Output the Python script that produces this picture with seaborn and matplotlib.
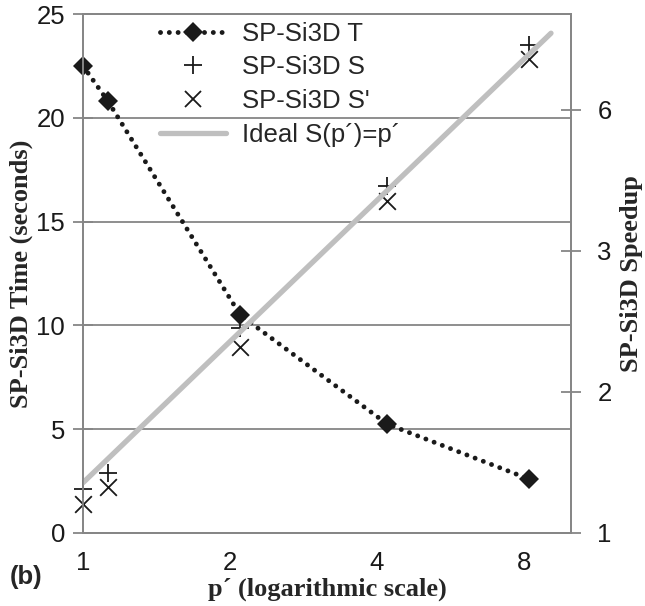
import matplotlib
matplotlib.use('Agg')
import matplotlib.pyplot as plt
from matplotlib.lines import Line2D
from matplotlib.ticker import NullLocator, FixedLocator, FixedFormatter
import seaborn as sns

# data
p_vals = [1.0, 1.125, 2.1, 4.2, 8.2]           # p' (log axis)
time_T = [22.5, 20.8, 10.5, 5.25, 2.6]          # SP-Si3D T, seconds (left axis)
speedup_S = [0.97, 1.05, 2.14, 4.3, 8.6]        # SP-Si3D S (right axis)
speedup_S2 = [0.9, 0.98, 1.95, 4.0, 8.0]        # SP-Si3D S' (right axis)
ideal_p = [1.0, 9.1]                            # ideal S(p')=p'

x_ticks = [1, 2, 4, 8]
left_ticks = [0, 5, 10, 15, 20, 25]
right_ticks = [0.78125, 1.5625, 3.125, 6.25]
right_tick_labels = ['1', '2', '3', '6']

sns.set_theme(style='white')
plt.rcParams['font.family'] = ['Liberation Sans', 'DejaVu Sans']

grey = '#868686'
serif = ['Liberation Serif', 'DejaVu Serif']
fs = 18.5

fig = plt.figure(figsize=(6.45, 6.06), dpi=100)
ax = fig.add_axes([83 / 645, 73 / 606, 488 / 645, 519 / 606])
ax.set_xscale('log')
ax.set_xlim(1, 10)
ax.set_ylim(0, 25)

ax2 = ax.twinx()
ax2.set_yscale('log', base=2)
ax2.set_ylim(0.78125, 10)

# left axis: time
sns.lineplot(x=p_vals, y=time_T, ax=ax, color='k', lw=3.5,
             linestyle=(0, (0.01, 1.8)), dash_capstyle='round',
             marker='D', markersize=10.5, markeredgewidth=0, clip_on=False)

# right axis: speedups
sns.lineplot(x=ideal_p, y=ideal_p, ax=ax2, color='#BFBFBF', lw=3.8)
sns.scatterplot(x=p_vals, y=speedup_S, ax=ax2, marker='+', s=13 ** 2,
                color='k', linewidth=1.3, clip_on=False)
sns.scatterplot(x=p_vals, y=speedup_S2, ax=ax2, marker='x', s=12 ** 2,
                color='k', linewidth=1.3, clip_on=False)

ax.grid(axis='y', color=grey, lw=1.3)
ax.grid(axis='x', visible=False)
ax.set_axisbelow(True)

ax.xaxis.set_major_locator(FixedLocator(x_ticks))
ax.xaxis.set_major_formatter(FixedFormatter([str(v) for v in x_ticks]))
ax.xaxis.set_minor_locator(NullLocator())
ax.set_yticks(left_ticks)
ax2.yaxis.set_major_locator(FixedLocator(right_ticks))
ax2.yaxis.set_major_formatter(FixedFormatter(right_tick_labels))
ax2.yaxis.set_minor_locator(NullLocator())

for a in (ax, ax2):
    a.tick_params(axis='both', direction='inout', length=14, width=1.3,
                  color=grey, labelsize=fs, labelcolor='k', pad=6)
    for s in a.spines.values():
        s.set_color(grey)
        s.set_linewidth(1.3)
ax2.tick_params(axis='y', pad=12)

ax.set_xlabel('p\u00b4 (logarithmic scale)', fontfamily=serif,
              fontweight='bold', fontsize=19, labelpad=2)
ax.set_ylabel('SP-Si3D Time (seconds)', fontfamily=serif,
              fontweight='bold', fontsize=19, labelpad=2)
ax2.set_ylabel('SP-Si3D Speedup', fontfamily=serif,
               fontweight='bold', fontsize=19, labelpad=6)

fig.text(10 / 645, 1 - 577 / 606, '(b)', fontweight='bold', fontsize=fs,
         va='center', ha='left')

handles = [
    Line2D([], [], color='k', lw=3.5, linestyle=(0, (0.01, 1.8)),
           dash_capstyle='round', marker='D', markersize=10.5, markeredgewidth=0),
    Line2D([], [], color='k', lw=0, marker='+', markersize=13, markeredgewidth=1.3),
    Line2D([], [], color='k', lw=0, marker='x', markersize=12, markeredgewidth=1.3),
    Line2D([], [], color='#BFBFBF', lw=3.8),
]
labels = ['SP-Si3D T', 'SP-Si3D S', "SP-Si3D S'", 'Ideal S(p\u00b4)=p\u00b4']
ax2.legend(handles, labels, loc='upper left', bbox_to_anchor=(0.12, 1.02),
           frameon=False, fontsize=fs, handlelength=2.6, handletextpad=0.6,
           labelspacing=0.38, borderpad=0.2, numpoints=1)

fig.savefig('out.png', dpi=100)
